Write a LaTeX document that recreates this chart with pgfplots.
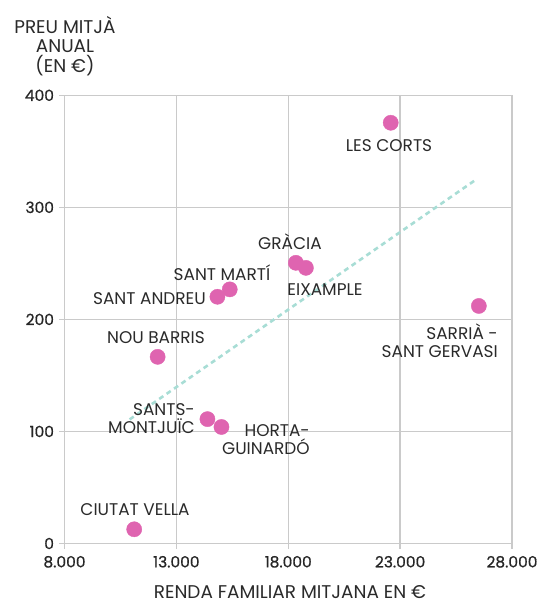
\documentclass[border=0pt]{standalone}
\usepackage{pgfplots}
\pgfplotsset{compat=1.18}
\usepackage{fontspec}
\setmainfont{Poppins}
\newfontfamily\tickfont{Poppins}[FakeBold=0.7]
\definecolor{pinkdot}{HTML}{DF64B0}
\definecolor{teal}{HTML}{A8DDD5}
\definecolor{gridgray}{HTML}{CACACA}
\definecolor{txt}{HTML}{2A2A2A}
\begin{document}
\begin{tikzpicture}
\useasboundingbox (0bp,0bp) rectangle (537bp,-604bp);
\begin{axis}[
  at={(64.5bp,-543.5bp)}, anchor=south west,
  scale only axis, width=447.5bp, height=448.2bp,
  xmin=8000, xmax=28000, ymin=0, ymax=400,
  xtick={8000,13000,18000,23000,28000},
  ytick={0,100,200,300,400},
  /pgf/number format/.cd, 1000 sep={.}, assume math mode=true,
  /pgfplots/.cd,
  scaled ticks=false,
  grid=major,
  major grid style={gridgray, line width=1.3bp},
  axis line style={draw=none},
  tick pos=left, tick align=outside, major tick length=5bp,
  tick style={gridgray, line width=1.3bp},
  ticklabel style={font=\tickfont\fontsize{15.5}{16}\selectfont, text=black!85},
  yticklabel style={xshift=-2bp},
  xticklabel style={yshift=-4bp},
  clip=false,
]
\addplot[teal, line width=2.6bp, dash pattern=on 5bp off 4bp] coordinates {(10910,110.7) (26429,325.3)};
\addplot[only marks, mark=*, color=pinkdot, mark size=7.6bp] coordinates {
  (22580,375.5) (18340,250.5) (18788,246) (15386,226.8) (14835,220.2)
  (26518,212) (12163,166.6) (14388,111) (15015,104) (11115,12.7)
};
\tikzset{lab/.style={font=\fontsize{17}{18}\selectfont, text=txt, inner sep=0pt}}
\node[lab] at (axis cs:22503,354.8) {LES CORTS};
\node[lab] at (axis cs:18078,269) {GRÀCIA};
\node[lab] at (axis cs:19642,227) {EIXAMPLE};
\node[lab] at (axis cs:15039,241.4) {SANT MARTÍ};
\node[lab, anchor=east] at (axis cs:14324,218.2) {SANT ANDREU};
\node[lab] at (axis cs:12089,183.4) {NOU BARRIS};
\node[lab, anchor=east, align=right] at (axis cs:13832,111.6) {SANTS-\\MONTJUÏC};
\node[lab, anchor=east, align=right] at (axis cs:18971,93) {HORTA-\\GUINARDÓ};
\node[lab, anchor=east, align=right] at (axis cs:27373,181.2) {SARRIÀ -\\SANT GERVASI};
\node[lab] at (axis cs:11151,29.9) {CIUTAT VELLA};
\end{axis}
\node[font=\fontsize{18.5}{19.5}\selectfont, text=txt, align=center, inner sep=0pt] at (65bp,-46bp) {PREU MITJÀ\\ANUAL\\(EN €)};
\node[font=\fontsize{18.5}{19}\selectfont, text=txt, inner sep=0pt, text height=13bp, text depth=0bp, anchor=south] at (290bp,-599bp) {RENDA FAMILIAR MITJANA EN €};
\end{tikzpicture}
\end{document}
